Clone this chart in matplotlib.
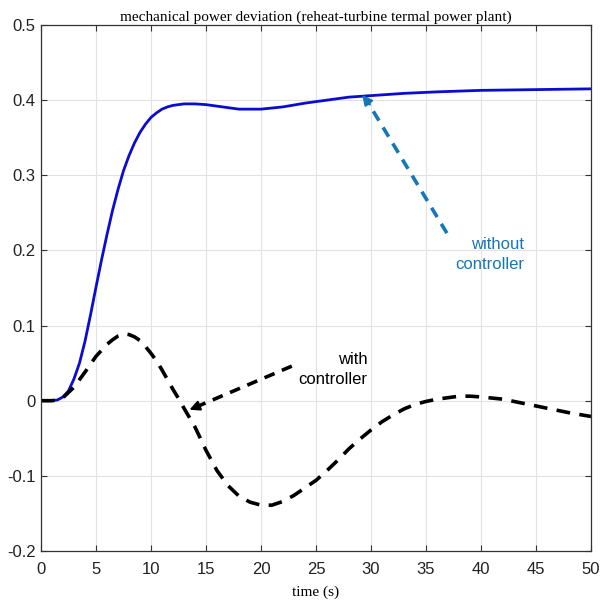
import numpy as np
import matplotlib.pyplot as plt

t_blue = [0, 1, 1.5, 2, 2.5, 3, 3.5, 4, 4.5, 5, 5.5, 6, 6.5, 7, 7.5, 8, 8.5, 9, 9.5, 10,
          10.5, 11, 11.5, 12, 12.5, 13, 14, 15, 16, 17, 18, 19, 20, 22, 24, 26, 28, 30,
          33, 36, 40, 45, 50]
p_without = [0, 0, 0.001, 0.005, 0.013, 0.029, 0.05, 0.079, 0.114, 0.151, 0.187, 0.221,
             0.253, 0.281, 0.306, 0.326, 0.343, 0.357, 0.368, 0.377, 0.383, 0.388, 0.391,
             0.393, 0.394, 0.395, 0.395, 0.394, 0.392, 0.390, 0.388, 0.388, 0.388, 0.391,
             0.396, 0.400, 0.404, 0.406, 0.409, 0.411, 0.413, 0.414, 0.415]

t_black = [0, 1, 1.5, 2, 3, 4, 5, 6, 6.5, 7, 7.6, 8, 8.5, 9, 9.5, 10, 10.5, 11, 11.5, 12,
           12.5, 13, 14, 15, 16, 17, 18, 19, 20, 20.6, 21, 22, 23, 24, 25, 26, 27, 28,
           29, 30, 31, 32, 33, 34, 35, 36, 37, 38, 39, 40, 42, 44, 46, 48, 50]
p_with = [0, 0, 0.001, 0.004, 0.018, 0.038, 0.059, 0.075, 0.081, 0.086, 0.089, 0.088,
          0.085, 0.080, 0.072, 0.063, 0.053, 0.041, 0.028, 0.015, 0.003, -0.010, -0.035,
          -0.066, -0.093, -0.113, -0.127, -0.135, -0.139, -0.139, -0.139, -0.134, -0.126,
          -0.116, -0.106, -0.093, -0.079, -0.064, -0.051, -0.039, -0.028, -0.019, -0.011,
          -0.005, -0.001, 0.002, 0.004, 0.006, 0.006, 0.005, 0.002, -0.004, -0.010,
          -0.016, -0.021]

xticks = np.arange(0, 51, 5)
yticks = np.round(np.arange(-0.2, 0.51, 0.1), 1)
ytick_labels = ['-0.2', '-0.1', '0', '0.1', '0.2', '0.3', '0.4', '0.5']

blue = '#0b0bd2'
ann_blue = '#1677b8'

fig = plt.figure(figsize=(6, 6.05), dpi=100)
ax = fig.add_axes([0.0683, 0.0893, 0.9167, 0.8694])

ax.plot(t_blue, p_without, color=blue, lw=2, solid_joinstyle='round')
ax.plot(t_black, p_with, color='black', lw=2.6, dashes=(3.8, 2.6))

ax.set_xlim(0, 50)
ax.set_ylim(-0.2, 0.5)
ax.set_xticks(xticks)
ax.set_yticks(yticks)
ax.set_yticklabels(ytick_labels)
ax.grid(True, color='#e2e2e2', lw=0.8)
ax.set_axisbelow(True)
ax.tick_params(direction='in', top=True, right=True, length=4, color='#333333',
               labelsize=12)
ax.tick_params(axis='x', pad=8)
ax.tick_params(axis='y', pad=4)
for lbl in ax.get_xticklabels() + ax.get_yticklabels():
    lbl.set_family('Liberation Sans')
    lbl.set_color('#222222')
for s in ax.spines.values():
    s.set_color('#333333')
    s.set_linewidth(0.9)

ax.set_title('mechanical power deviation (reheat-turbine termal power plant)',
             family='Liberation Serif', fontsize=11, pad=3)
ax.set_xlabel('time (s)', family='Liberation Serif', fontsize=11, labelpad=6)

# without controller annotation
ax.plot([36.9, 29.6], [0.223, 0.400], color=ann_blue, lw=2.6, dashes=(3, 2.2))
ax.annotate('', xy=(29.2, 0.407), xytext=(29.9, 0.394),
            arrowprops=dict(arrowstyle='-|>,head_length=0.6,head_width=0.3',
                            color=ann_blue, lw=1.5, shrinkA=0, shrinkB=0))
ax.text(43.9, 0.195, 'without\ncontroller', color=ann_blue, ha='right', va='center',
        family='Liberation Sans', fontsize=12, linespacing=1.4)

# with controller annotation
ax.plot([22.8, 14.0], [0.046, -0.009], color='black', lw=2.6, dashes=(3, 2.2))
ax.annotate('', xy=(13.5, -0.012), xytext=(14.5, -0.006),
            arrowprops=dict(arrowstyle='-|>,head_length=0.6,head_width=0.3',
                            color='black', lw=1.5, shrinkA=0, shrinkB=0))
ax.text(29.7, 0.041, 'with\ncontroller', color='black', ha='right', va='center',
        family='Liberation Sans', fontsize=12, linespacing=1.4)

fig.savefig('out.png', dpi=100, facecolor='white')
